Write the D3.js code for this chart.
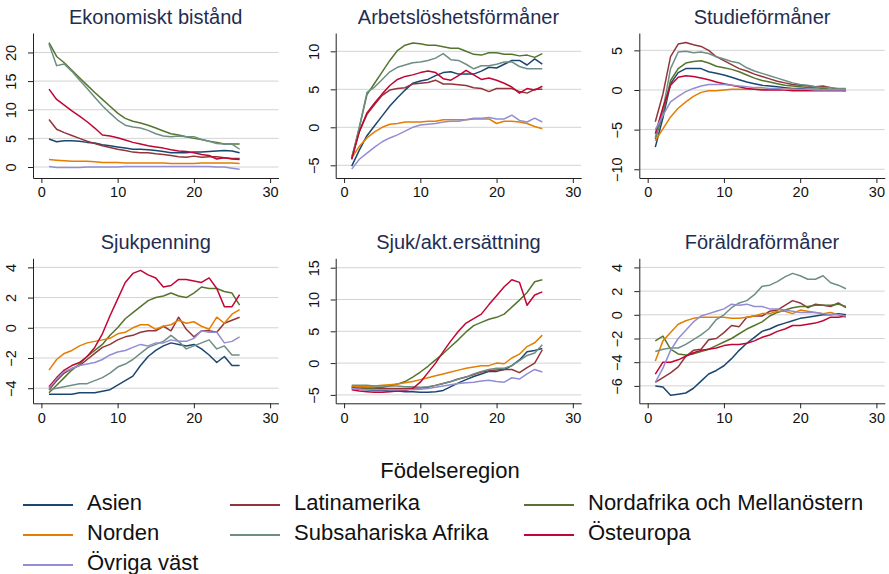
<!DOCTYPE html>
<html>
<head>
<meta charset="utf-8">
<script src="https://cdn.jsdelivr.net/npm/d3@7"></script>
<style>
  body { margin: 0; background: #fff; }
  svg { display: block; font-family: Arial, "Liberation Sans", sans-serif; }
</style>
</head>
<body>
<div id="chart"></div>
<script>
const years = [1,2,3,4,5,6,7,8,9,10,11,12,13,14,15,16,17,18,19,20,21,22,23,24,25,26];
const regions = ["Asien", "Latinamerika", "Nordafrika och Mellanöstern", "Norden", "Subsahariska Afrika", "Östeuropa", "Övriga väst"];
const regionColors = ["#1a476f", "#90353b", "#55752f", "#e37e00", "#6e8e84", "#c10534", "#938dd2"];
const xTicks = [0, 10, 20, 30];

// one row per region, same order as regions
const ekonomisktBistand = [
  [4.9,4.4,4.6,4.6,4.5,4.3,4.2,3.9,3.7,3.5,3.3,3.1,3.1,3.0,2.9,2.7,2.5,2.5,2.5,2.6,2.6,2.7,2.8,2.9,2.8,2.5],
  [8.3,6.6,6.0,5.5,5.0,4.5,4.1,3.7,3.4,3.1,2.9,2.6,2.5,2.5,2.3,2.2,2.0,1.8,1.7,1.9,1.7,1.8,1.8,1.6,1.5,1.5],
  [21.7,19.3,18.2,16.9,15.6,14.3,13.0,11.8,10.6,9.4,8.5,8.0,7.7,7.3,6.8,6.3,5.8,5.6,5.3,5.0,4.8,4.5,4.3,4.0,4.0,4.0],
  [1.3,1.2,1.1,1.0,1.0,1.0,0.9,0.8,0.8,0.8,0.7,0.7,0.7,0.7,0.7,0.7,0.6,0.6,0.6,0.6,0.7,0.7,0.7,0.7,0.7,0.6],
  [21.5,17.7,18.0,16.7,15.2,13.7,12.2,10.7,9.4,8.2,7.3,7.0,6.8,6.4,5.8,5.4,5.3,5.4,5.3,5.3,4.8,4.5,4.1,4.0,4.0,3.1],
  [13.6,11.8,10.8,9.8,8.9,7.9,6.8,5.6,5.4,5.1,4.7,4.3,4.0,3.7,3.5,3.3,3.0,2.8,2.7,2.5,2.2,2.0,1.4,1.6,1.4,1.3],
  [0.1,-0.1,-0.1,-0.1,-0.1,0.0,0.0,0.0,0.0,0.0,0.1,0.1,0.1,0.1,0.1,0.1,0.1,0.1,0.1,0.1,0.1,0.1,0.0,0.0,-0.2,-0.4]
];

const arbetsloshet = [
  [-5.1,-3.0,-1.1,0.2,1.5,2.8,3.9,4.9,5.8,6.1,6.3,6.8,7.2,7.3,7.0,7.0,7.0,7.4,7.9,7.8,8.3,8.8,8.8,8.2,9.0,8.3],
  [-4.0,-0.5,1.7,3.0,4.2,4.9,5.1,5.2,5.7,5.8,5.9,6.2,5.7,5.7,5.6,5.5,5.2,5.1,4.7,5.1,5.1,5.1,4.7,4.5,5.0,5.0],
  [-4.2,0.0,4.3,5.8,7.3,8.8,10.1,10.8,11.1,11.0,10.8,10.8,10.6,10.4,10.4,10.0,9.6,9.5,9.8,9.8,9.6,9.6,9.4,9.5,9.2,9.7],
  [-4.0,-2.5,-1.4,-0.6,0.0,0.4,0.5,0.7,0.7,0.7,0.8,0.8,1.0,1.0,1.0,1.0,1.1,1.1,1.1,0.5,0.8,0.8,0.7,0.5,0.1,-0.2],
  [-4.0,0.0,4.6,5.3,6.3,7.3,7.9,8.2,8.5,8.6,8.8,9.1,9.7,8.9,8.8,8.3,7.7,8.1,8.1,8.3,8.6,8.6,8.0,7.7,7.7,7.7],
  [-4.2,-0.6,1.9,3.2,4.4,5.5,6.3,6.7,6.9,7.2,7.4,7.2,6.4,6.2,6.8,7.5,6.9,6.3,6.5,6.2,5.8,5.3,4.5,5.1,4.9,5.4],
  [-5.5,-4.2,-3.4,-2.6,-1.9,-1.4,-1.0,-0.5,0.0,0.3,0.4,0.5,0.7,0.8,0.8,1.0,1.2,1.2,1.3,1.1,1.1,1.6,0.9,0.7,1.2,0.7]
];

const studieformaner = [
  [-7.2,-3.5,0.8,2.2,2.7,2.7,2.7,2.3,2.1,1.9,1.6,1.3,1.0,0.8,0.6,0.5,0.4,0.3,0.2,0.2,0.1,0.1,0.0,0.0,0.0,0.0],
  [-4.0,-0.5,4.2,5.8,6.0,5.7,5.5,5.0,4.2,3.7,3.2,2.7,2.4,2.0,1.7,1.4,1.1,0.9,0.7,0.6,0.5,0.4,0.5,0.3,0.1,0.0],
  [-6.2,-3.0,1.2,2.7,3.4,3.6,3.7,3.4,3.0,2.8,2.6,2.3,1.9,1.5,1.2,1.0,0.8,0.6,0.5,0.4,0.3,0.3,0.2,0.1,0.1,0.0],
  [-6.4,-4.9,-3.4,-2.3,-1.5,-0.8,-0.3,-0.1,-0.1,0.0,0.1,0.1,0.1,0.1,0.1,0.1,0.1,0.1,0.1,0.0,0.0,0.0,0.0,0.0,0.0,-0.1],
  [-6.0,-2.5,2.7,4.8,4.9,4.7,4.8,4.6,4.2,3.9,3.6,3.4,2.8,2.4,2.1,1.8,1.5,1.2,0.9,0.7,0.6,0.4,0.3,0.3,0.2,0.2],
  [-5.5,-2.2,0.6,1.6,1.8,1.7,1.5,1.3,1.0,0.8,0.6,0.4,0.2,0.1,0.0,0.0,0.0,0.0,-0.1,-0.1,-0.1,-0.1,-0.1,-0.1,-0.1,-0.1],
  [-5.0,-3.2,-1.5,-0.8,-0.2,0.2,0.5,0.7,0.7,0.7,0.6,0.5,0.4,0.3,0.3,0.2,0.2,0.1,0.1,0.1,0.1,0.0,0.0,0.0,0.0,0.0]
];

const sjukpenning = [
  [-4.4,-4.4,-4.4,-4.4,-4.3,-4.3,-4.3,-4.2,-4.1,-3.8,-3.5,-3.2,-2.5,-1.9,-1.5,-1.2,-1.0,-1.1,-1.2,-1.1,-1.4,-1.8,-2.3,-1.9,-2.5,-2.5],
  [-4.1,-3.5,-3.0,-2.7,-2.5,-2.1,-1.7,-1.3,-1.1,-0.8,-0.6,-0.5,-0.3,-0.2,-0.2,0.1,-0.2,0.7,-0.1,-0.6,-0.2,-0.2,-0.3,0.3,0.5,0.7],
  [-4.3,-3.8,-3.3,-2.8,-2.4,-1.9,-1.5,-1.1,-0.5,0.0,0.6,1.0,1.4,1.8,2.0,2.1,2.3,2.1,2.0,2.3,2.7,2.6,2.6,2.4,2.3,1.5],
  [-2.8,-2.1,-1.7,-1.5,-1.2,-1.0,-0.9,-0.8,-0.7,-0.4,-0.3,0.0,0.2,0.2,-0.1,0.1,0.2,0.5,0.3,0.4,0.1,-0.1,0.7,0.3,0.9,1.2],
  [-4.1,-4.0,-3.9,-3.8,-3.7,-3.7,-3.5,-3.3,-3.0,-2.6,-2.4,-2.1,-1.7,-1.3,-1.1,-0.9,-0.5,-0.9,-1.4,-1.2,-1.0,-0.8,-1.4,-1.2,-1.8,-1.8],
  [-3.9,-3.3,-2.8,-2.5,-2.3,-1.9,-1.3,-0.4,0.8,1.9,3.0,3.6,3.8,3.5,3.3,2.7,2.8,3.2,3.2,3.1,3.0,3.3,2.6,1.4,1.4,2.2],
  [-4.0,-3.4,-2.9,-2.7,-2.5,-2.4,-2.3,-2.1,-1.8,-1.6,-1.5,-1.3,-1.1,-1.2,-1.0,-1.0,-0.8,-0.9,-0.9,-0.7,-0.2,-0.3,-0.3,-1.0,-0.9,-0.6]
];

const sjukAktErsattning = [
  [-3.9,-4.1,-4.2,-4.3,-4.3,-4.4,-4.4,-4.5,-4.5,-4.6,-4.6,-4.5,-4.3,-3.7,-3.1,-2.6,-2.1,-1.7,-1.3,-1.3,-1.0,-0.4,0.5,1.8,2.0,2.3],
  [-3.8,-3.9,-4.0,-4.0,-4.0,-4.0,-4.0,-4.0,-3.9,-3.9,-3.8,-3.5,-3.2,-2.9,-2.5,-2.2,-1.8,-1.4,-1.2,-1.1,-1.0,-1.0,-1.5,-0.7,0.0,2.1],
  [-3.7,-3.8,-3.9,-3.9,-3.8,-3.6,-3.3,-2.9,-2.2,-1.4,-0.5,0.5,1.5,2.6,3.7,4.9,5.9,6.4,6.9,7.2,7.7,8.8,9.9,11.1,12.8,13.1],
  [-3.6,-3.7,-3.7,-3.6,-3.5,-3.4,-3.3,-3.1,-2.9,-2.6,-2.3,-2.0,-1.7,-1.4,-1.1,-0.8,-0.6,-0.4,-0.4,0.0,-0.1,0.8,1.4,2.6,3.2,4.4],
  [-3.5,-3.5,-3.5,-3.6,-3.6,-3.6,-3.6,-3.7,-3.7,-3.8,-3.7,-3.5,-3.2,-2.9,-2.5,-2.2,-1.7,-1.3,-1.0,-0.8,-0.8,-0.4,0.4,1.2,1.6,2.9],
  [-4.2,-4.4,-4.5,-4.6,-4.6,-4.5,-4.4,-4.3,-4.0,-3.0,-1.5,0.0,1.8,3.5,5.0,6.3,7.0,7.7,9.2,10.6,12.0,13.1,12.7,9.1,10.7,11.2],
  [-4.0,-4.1,-4.2,-4.2,-4.2,-4.2,-4.2,-4.2,-4.2,-4.1,-4.0,-3.8,-3.6,-3.4,-3.2,-3.1,-3.0,-2.8,-2.7,-2.9,-3.0,-2.3,-2.5,-1.7,-1.0,-1.4]
];

const foraldraformaner = [
  [-6.0,-6.1,-6.8,-6.7,-6.6,-6.2,-5.6,-5.0,-4.7,-4.3,-3.7,-3.0,-2.4,-1.9,-1.4,-1.2,-0.9,-0.7,-0.5,-0.3,-0.2,-0.1,0.0,0.0,0.1,0.0],
  [-5.7,-5.3,-4.9,-4.4,-3.5,-3.0,-2.9,-2.1,-2.0,-1.5,-0.9,-1.0,-0.2,-0.1,-0.1,0.3,0.4,0.8,1.2,1.0,0.6,0.9,0.8,0.7,1.0,0.6],
  [-2.2,-1.8,-2.9,-3.3,-3.4,-3.3,-3.1,-2.9,-2.6,-2.3,-2.0,-1.6,-1.2,-0.9,-0.6,-0.1,0.2,0.4,0.6,0.7,0.7,0.8,0.8,0.8,0.9,0.7],
  [-3.9,-2.2,-1.5,-0.8,-0.5,-0.3,-0.2,-0.2,-0.2,-0.2,-0.3,-0.3,-0.2,-0.1,0.1,0.1,0.3,0.3,0.1,0.4,0.3,0.2,0.1,0.2,0.0,-0.2],
  [-3.1,-2.9,-2.8,-2.8,-2.5,-2.1,-1.7,-1.2,-0.4,0.0,0.6,1.0,1.2,1.7,2.4,2.5,2.8,3.2,3.5,3.3,3.0,3.0,3.3,2.7,2.5,2.2],
  [-5.0,-4.0,-4.0,-3.8,-3.5,-3.2,-3.0,-2.9,-2.8,-2.6,-2.5,-2.5,-2.4,-2.2,-1.9,-1.7,-1.4,-1.2,-0.9,-0.9,-0.8,-0.7,-0.5,-0.2,-0.2,-0.1],
  [-5.7,-4.5,-3.0,-2.0,-1.3,-0.6,-0.1,0.1,0.3,0.5,0.9,0.8,0.9,0.7,0.7,0.5,0.5,0.4,0.3,0.2,0.2,0.2,0.1,0.0,0.0,-0.1]
];

const panels = [
  { title: "Ekonomiskt bistånd", values: ekonomisktBistand, yDomain: [-1.92, 23.4], yTicks: [0, 5, 10, 15, 20], col: 0, row: 0 },
  { title: "Arbetslöshetsförmåner", values: arbetsloshet, yDomain: [-6.67, 12.41], yTicks: [-5, 0, 5, 10], col: 1, row: 0 },
  { title: "Studieförmåner", values: studieformaner, yDomain: [-11.1, 7.19], yTicks: [-10, -5, 0, 5], col: 2, row: 0 },
  { title: "Sjukpenning", values: sjukpenning, yDomain: [-5, 4.6], yTicks: [-4, -2, 0, 2, 4], col: 0, row: 1 },
  { title: "Sjuk/akt.ersättning", values: sjukAktErsattning, yDomain: [-6.32, 16.48], yTicks: [-5, 0, 5, 10, 15], col: 1, row: 1 },
  { title: "Föräldraförmåner", values: foraldraformaner, yDomain: [-7.47, 4.77], yTicks: [-6, -4, -2, 0, 2, 4], col: 2, row: 1 }
];

const width = 889, height = 574;
const colLeft = [33, 335.7, 639.3];
const plotWidth = 245.5;
const rowTop = [33, 258.3];
const plotHeight = 145;

const svg = d3.select("#chart").append("svg")
  .attr("width", width)
  .attr("height", height)
  .style("background", "#fff");

panels.forEach(p => {
  const left = colLeft[p.col], top = rowTop[p.row];
  const bottom = top + plotHeight, right = left + plotWidth;

  const x = d3.scaleLinear().domain([-1.1, 31.1]).range([left, right]);
  const y = d3.scaleLinear().domain(p.yDomain).range([bottom, top]);

  const g = svg.append("g");

  // gridlines
  g.append("g")
    .selectAll("line")
    .data(p.yTicks)
    .join("line")
    .attr("x1", left).attr("x2", right)
    .attr("y1", d => y(d)).attr("y2", d => y(d))
    .attr("stroke", "#d3d3d3")
    .attr("stroke-width", 1);

  // series lines
  const line = d3.line()
    .x((d, i) => x(years[i]))
    .y(d => y(d));

  g.append("g")
    .selectAll("path")
    .data(p.values)
    .join("path")
    .attr("fill", "none")
    .attr("stroke", (d, i) => regionColors[i])
    .attr("stroke-width", 1.5)
    .attr("stroke-linejoin", "round")
    .attr("d", line);

  // axes
  const xAxis = g.append("g")
    .attr("transform", `translate(0,${bottom})`)
    .call(d3.axisBottom(x).tickValues(xTicks).tickSize(5).tickSizeOuter(0).tickPadding(4));
  xAxis.select(".domain").attr("stroke", "#222");
  xAxis.selectAll(".tick line").attr("stroke", "#222");
  xAxis.selectAll("text")
    .attr("font-size", "14.5px")
    .attr("fill", "#111")
    .style("font-family", "Arial, 'Liberation Sans', sans-serif");

  const yAxis = g.append("g")
    .attr("transform", `translate(${left},0)`)
    .call(d3.axisLeft(y).tickValues(p.yTicks).tickSize(5).tickSizeOuter(0).tickFormat(d3.format("d")));
  yAxis.select(".domain").attr("stroke", "#222");
  yAxis.selectAll(".tick line").attr("stroke", "#222");
  yAxis.selectAll("text")
    .attr("x", null).attr("dy", null)
    .attr("transform", "translate(-17,0) rotate(-90)")
    .attr("text-anchor", "middle")
    .attr("font-size", "14.5px")
    .attr("fill", "#111")
    .style("font-family", "Arial, 'Liberation Sans', sans-serif");

  // title
  g.append("text")
    .attr("x", (left + right) / 2)
    .attr("y", top - 9)
    .attr("text-anchor", "middle")
    .attr("font-size", "20px")
    .attr("fill", "#1f2d52")
    .text(p.title);
});

// Legend
svg.append("text")
  .attr("x", 450)
  .attr("y", 478)
  .attr("text-anchor", "middle")
  .attr("font-size", "22px")
  .attr("fill", "#111")
  .text("Födelseregion");

const legendCols = [23, 230, 524];
const legendRows = [505, 535, 565];

const legend = svg.append("g")
  .selectAll("g")
  .data(regions)
  .join("g")
  .attr("transform", (d, i) => `translate(${legendCols[i % 3]},${legendRows[Math.floor(i / 3)]})`);

legend.append("line")
  .attr("x1", 0).attr("x2", 50)
  .attr("y1", 0).attr("y2", 0)
  .attr("stroke", (d, i) => regionColors[i])
  .attr("stroke-width", 2);

legend.append("text")
  .attr("x", 64)
  .attr("y", 5)
  .attr("font-size", "22px")
  .attr("fill", "#111")
  .text(d => d);
</script>
</body>
</html>
